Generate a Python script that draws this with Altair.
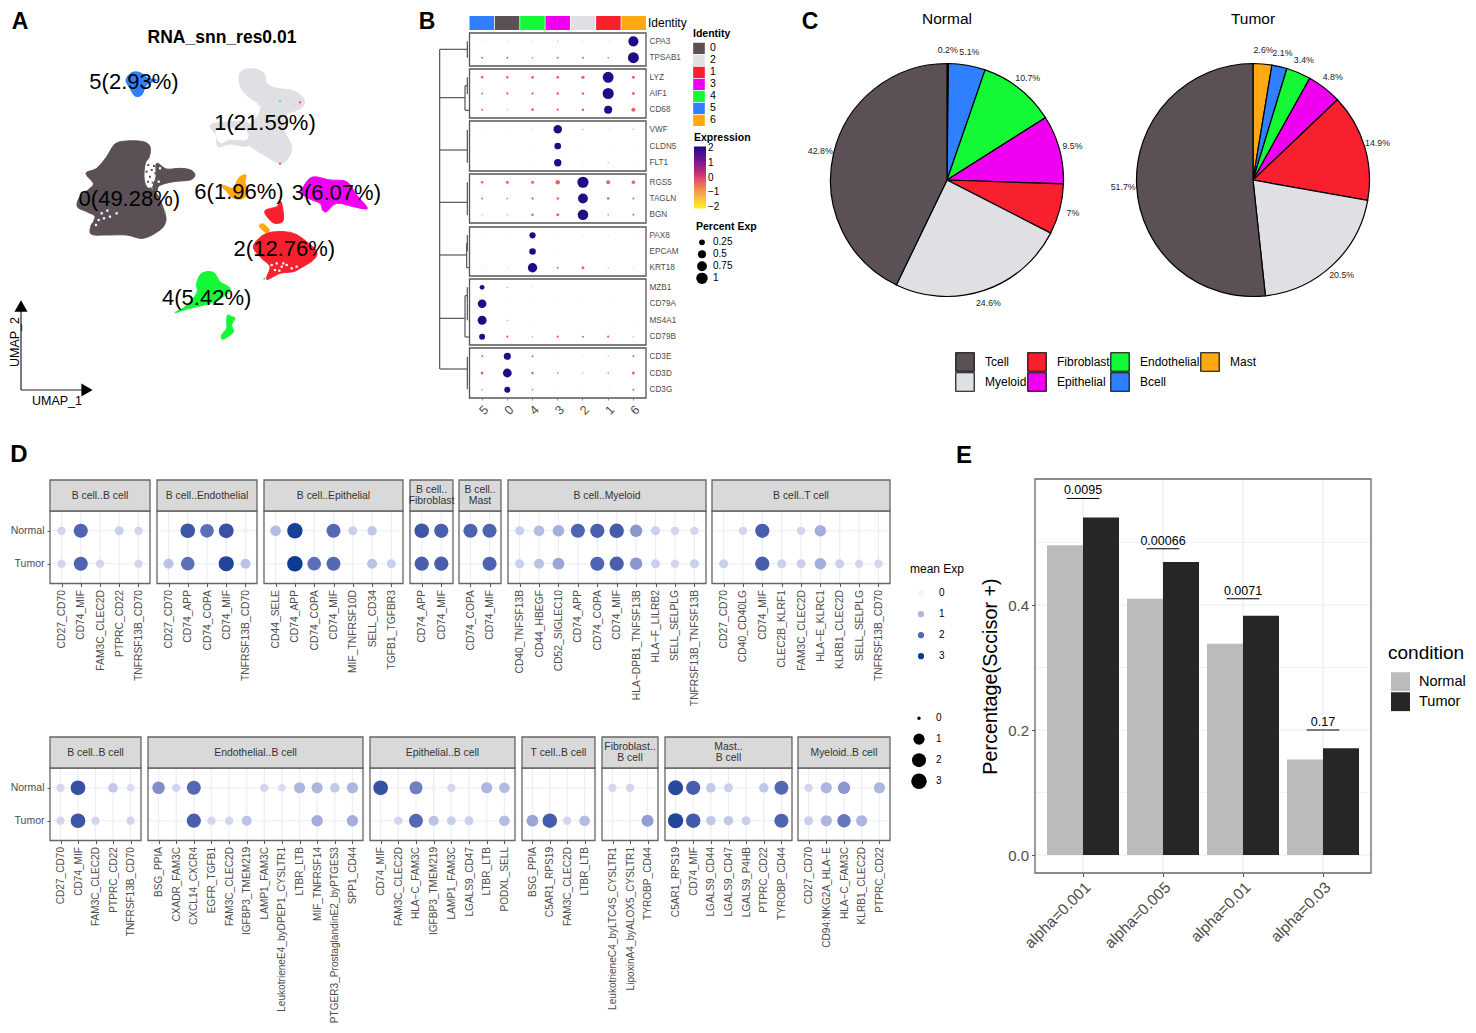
import altair as alt
import pandas as pd

FONT = "Liberation Sans"
GREY = "#4d4d4d"
FRAME = "#666666"

# ---------------- Panel A values (UMAP outlines)
umap_outlines = {
    "#5a5055": [
        [(345,432),(380,423),(430,425),(450,440),(448,470),(436,490),(432,530),(440,560),(465,575),(480,600),(495,640),(497,665),(480,690),(430,715),(380,705),(320,705),(275,703),(272,680),(285,650),(260,635),(232,620),(240,590),(270,565),(280,550),(258,520),(290,505),(320,470)],
        [(470,490),(500,507),(540,505),(572,510),(585,525),(570,540),(520,545),(478,557),(470,575),(458,565),(468,530)],
    ],
    "#e0dfe3": [
        [(718,225),(735,208),(770,208),(793,222),(800,250),(830,265),(880,272),(912,298),(903,325),(860,345),(850,385),(870,425),(875,450),(860,480),(838,490),(800,470),(760,445),(740,425),(745,380),(775,345),(780,315),(745,290),(722,262)],
        [(630,378),(660,368),(745,370),(745,435),(690,432),(655,440),(648,405)],
    ],
    "#f8202e": [
        [(760,740),(790,705),(830,695),(880,700),(920,725),(950,755),(940,780),(900,805),(880,815),(840,820),(800,838),(810,800),(785,775)],
        [(795,632),(830,620),(843,605),(850,660),(825,670),(805,655)],
    ],
    "#f000f0": [[(905,575),(935,532),(990,540),(1040,545),(1070,585),(1100,620),(1095,627),(1060,620),(1010,610),(980,635),(968,630),(960,610),(925,595)]],
    "#14f935": [
        [(590,850),(605,820),(640,817),(660,845),(690,865),(670,890),(630,910),(570,925),(525,938),(555,920),(590,880)],
        [(683,945),(695,950),(705,955),(695,975),(700,997),(668,1018),(665,1005),(680,985),(680,965)],
    ],
    "#2f80ff": [[(378,240),(395,218),(420,218),(445,235),(470,240),(440,255),(425,285),(405,288),(390,265)]],
    "#ffa812": [
        [(665,555),(700,565),(710,545),(720,530),(738,525),(735,550),(745,570),(730,595),(700,595),(680,575)],
        [(778,678),(790,672),(808,690),(796,697)],
    ],
}
umap_hole = [(650,390),(700,385),(740,395),(738,418),(690,418),(660,428)]
white_specks = [(305,640),(312,655),(322,632),(296,660),(330,650),(288,675),(350,640),(275,665),
                (480,505),(476,545),(800,805),(815,795),
                (830,790),(845,800),(860,795),(875,805),(825,810),(890,800),(850,790),(838,812)]
dark_specks = [(445,495),(455,510),(450,530),(462,498),(444,545),(458,548),(466,520),(452,565),(440,515)]
grey_specks = [(783,330),(776,312),(790,345),(775,355)]
umap_labels = ["5(2.93%)", "1(21.59%)", "0(49.28%)", "6(1.96%)", "3(6.07%)", "2(12.76%)", "4(5.42%)"]
umap_label_x = [402, 795, 388, 717, 1009, 853, 620]
umap_label_y = [246, 370, 596, 577, 578, 746, 893]

# ---------------- Panel B values
b_clusters = ["5", "0", "4", "3", "2", "1", "6"]
b_identity_order = ["0", "2", "1", "3", "4", "5", "6"]
b_identity_colors = ["#5a5055", "#e0dfe3", "#f8202e", "#f000f0", "#14f935", "#2f80ff", "#ffa812"]
b_genes = [["CPA3","TPSAB1"],["LYZ","AIF1","CD68"],["VWF","CLDN5","FLT1"],["RGS5","TAGLN","BGN"],
           ["PAX8","EPCAM","KRT18"],["MZB1","CD79A","MS4A1","CD79B"],["CD3E","CD3D","CD3G"]]
b_pct = {
 "CPA3":[.005,.005,.005,.01,.005,.005,.8], "TPSAB1":[.03,.03,.02,.03,.03,.02,.92],
 "LYZ":[.05,.05,.06,.06,.08,.92,.07], "AIF1":[.03,.04,.04,.05,.05,.95,.06], "CD68":[.03,.01,.06,.04,.05,.5,.13],
 "VWF":[.002,.002,.005,.55,.01,.005,.01], "CLDN5":[0,0,.003,.35,.003,.002,.002], "FLT1":[0,0,.003,.42,.005,.01,.002],
 "RGS5":[.05,.07,.07,.15,.95,.12,.1], "TAGLN":[.03,.02,.04,.05,.75,.05,.03], "BGN":[.01,.01,.05,.07,.85,.02,.03],
 "PAX8":[.002,.003,.3,.005,.005,.005,.002], "EPCAM":[0,0,.33,.003,0,0,0], "KRT18":[.005,.005,.68,.03,.07,.01,.005],
 "MZB1":[.18,.01,.005,0,0,0,0], "CD79A":[.58,.002,.002,.003,.002,.003,0], "MS4A1":[.62,.01,.002,0,0,.002,.002], "CD79B":[.27,.04,.01,.04,.03,.04,.01],
 "CD3E":[.03,.38,.03,.005,.005,.01,.03], "CD3D":[.06,.6,.05,.02,.01,.02,.07], "CD3G":[.02,.28,.02,.005,.003,.005,.03],
}
b_big = {"CPA3":"6","TPSAB1":"6","LYZ":"1","AIF1":"1","CD68":"1","VWF":"3","CLDN5":"3","FLT1":"3","RGS5":"2","TAGLN":"2","BGN":"2",
         "PAX8":"4","EPCAM":"4","KRT18":"4","MZB1":"5","CD79A":"5","MS4A1":"5","CD79B":"5","CD3E":"0","CD3D":"0","CD3G":"0"}
b_small_expr = -0.35
b_dendro = [(90,148,172,148),(90,293,165,293),(88,450,172,450),(90,607,172,607),(88,765,170,765),(90,955,165,955),(90,1107,172,1107),
            (89,148,89,1107),(172,124,172,173),(165,257,165,331),(165,331,178,331),(165,257,172,257),(172,232,172,282),
            (172,390,172,488),(172,547,172,646),(170,730,170,803),(170,730,172,730),(170,803,178,803),(172,705,172,754),
            (165,887,165,1011),(165,887,172,887),(165,1011,178,1011),(172,862,172,911),(172,911,172,961),(172,1070,172,1168)]

# ---------------- Panel C values
pie_names = ["Mast", "Bcell", "Endothelial", "Epithelial", "Fibroblast", "Myeloid", "Tcell"]
pie_normal = [0.2, 5.1, 10.7, 9.5, 7, 24.6, 42.8]
pie_tumor = [2.6, 2.1, 3.4, 4.8, 14.9, 20.5, 51.7]
pie_legend = ["Tcell", "Myeloid", "Fibroblast", "Epithelial", "Endothelial", "Bcell", "Mast"]
pie_legend_colors = ["#5a5055", "#e0dfe3", "#f8202e", "#f000f0", "#14f935", "#2f80ff", "#ffa812"]

# ---------------- Panel D values: (ligand_receptor, Normal, Tumor)
d_row1 = [
 ("B cell..B cell", [("CD27_CD70",.5,.5),("CD74_MIF",2.1,2.1),("FAM3C_CLEC2D",.05,.5),("PTPRC_CD22",.6,.05),("TNFRSF13B_CD70",.5,.5)]),
 ("B cell..Endothelial", [("CD27_CD70",.05,.8),("CD74_APP",2.4,1.9),("CD74_COPA",1.9,.05),("CD74_MIF",2.5,2.8),("TNFRSF13B_CD70",.1,.8)]),
 ("B cell..Epithelial", [("CD44_SELE",.9,.05),("CD74_APP",2.9,3),("CD74_COPA",.05,1.9),("CD74_MIF",2,2),("MIF_TNFRSF10D",.6,.05),("SELL_CD34",.7,.8),("TGFB1_TGFBR3",.05,.6)]),
 (["B cell..","Fibroblast"], [("CD74_APP",2.4,2.2),("CD74_MIF",2.2,2.2)]),
 (["B cell..","Mast"], [("CD74_COPA",2.1,.05),("CD74_MIF",2.1,2.1)]),
 ("B cell..Myeloid", [("CD40_TNFSF13B",.6,.6),("CD44_HBEGF",.9,.8),("CD52_SIGLEC10",1.1,1.2),("CD74_APP",2.1,.05),("CD74_COPA",2.2,2.1),("CD74_MIF",2.3,2.2),("HLA−DPB1_TNFSF13B",1.4,1.4),("HLA−F_LILRB2",.6,.6),("SELL_SELPLG",.5,.5),("TNFRSF13B_TNFSF13B",.5,.6)]),
 ("B cell..T cell", [("CD27_CD70",.05,.6),("CD40_CD40LG",.5,.05),("CD74_MIF",2.2,2.2),("CLEC2B_KLRF1",.05,.6),("FAM3C_CLEC2D",.5,.6),("HLA−E_KLRC1",1.1,1.1),("KLRB1_CLEC2D",.05,.6),("SELL_SELPLG",.05,.5),("TNFRSF13B_CD70",.05,.5)]),
]
d_row2 = [
 ("B cell..B cell", [("CD27_CD70",.5,.5),("CD74_MIF",2.5,2.4),("FAM3C_CLEC2D",.05,.5),("PTPRC_CD22",.7,.05),("TNFRSF13B_CD70",.4,.5)]),
 ("Endothelial..B cell", [("BSG_PPIA",1.5,.05),("CXADR_FAM3C",.5,.05),("CXCL14_CXCR4",2,2.2),("EGFR_TGFB1",.05,.5),("FAM3C_CLEC2D",.05,.5),("IGFBP3_TMEM219",.05,.8),("LAMP1_FAM3C",.5,.05),("LeukotrieneE4_byDPEP1_CYSLTR1",.4,.05),("LTBR_LTB",1,.05),("MIF_TNFRSF14",1,1.1),("PTGER3_ProstaglandinE2_byPTGES3",.7,.05),("SPP1_CD44",1,1.1)]),
 ("Epithelial..B cell", [("CD74_MIF",2.5,.05),("FAM3C_CLEC2D",.05,.5),("HLA−C_FAM3C",1.7,2),("IGFBP3_TMEM219",.1,.8),("LAMP1_FAM3C",.5,.6),("LGALS9_CD47",.05,.6),("LTBR_LTB",1,.05),("PODXL_SELL",.9,.9)]),
 ("T cell..B cell", [("BSG_PPIA",.05,1.2),("C5AR1_RPS19",.05,2.3),("FAM3C_CLEC2D",.05,.5),("LTBR_LTB",.05,.9)]),
 (["Fibroblast..","B cell"], [("LeukotrieneC4_byLTC4S_CYSLTR1",.5,.05),("LipoxinA4_byALOX5_CYSLTR1",.5,.05),("TYROBP_CD44",.05,1.3)]),
 (["Mast..","B cell"], [("C5AR1_RPS19",2.7,2.8),("CD74_MIF",2.2,2.3),("LGALS9_CD44",.7,.7),("LGALS9_CD47",.6,.7),("LGALS9_P4HB",.05,.6),("PTPRC_CD22",.7,.05),("TYROBP_CD44",2,2.1)]),
 ("Myeloid..B cell", [("CD27_CD70",.5,.6),("CD94:NKG2A_HLA−E",1,1),("HLA−C_FAM3C",1.4,1.8),("KLRB1_CLEC2D",.05,1),("PTPRC_CD22",1,.05)]),
]

# ---------------- Panel E values
e_alpha = ["alpha=0.001", "alpha=0.005", "alpha=0.01", "alpha=0.03"]
e_normal = [0.4955, 0.410, 0.338, 0.153]
e_tumor = [0.540, 0.469, 0.383, 0.171]
e_p = ["0.0095", "0.00066", "0.0071", "0.17"]
e_p_y = [0.5705, 0.49, 0.41, 0.20]

# ---------------- Layout (page pixels; the chart origin sits 8px in from the page corner)
def P(v):
    return v - 8

CW, CH = 1460, 1017
D1_BOX = [(50,150),(157,257),(264,403),(410,453),(459,501),(508,706),(712,890)]
D2_BOX = [(50,141),(148,363),(370,515),(522,595),(602,658),(665,792),(798,890)]
B_BOX = [(33,66),(69,118),(121,171),(174,223),(227,276),(279,345),(348,398)]
B_L, B_R = 469.5, 646

one = alt.Data(values=[{}])
layers = []

def label(text, x, y, size, bold=False, angle=0, align="center", color="black", **kw):
    layers.append(alt.Chart(one).mark_text(text=text, fontSize=size, fontWeight="bold" if bold else "normal",
                                           angle=angle, align=align, baseline="middle", color=color, **kw)
                  .encode(x=alt.value(P(x)), y=alt.value(P(y))))

def box(l, t, r, b, fill=None, stroke=FRAME, sw=1.4):
    kw = {"fill": fill} if fill else {"fillOpacity": 0}
    layers.append(alt.Chart(one).mark_rect(stroke=stroke, strokeWidth=sw, **kw)
                  .encode(x=alt.value(P(l)), x2=alt.value(P(r)), y=alt.value(P(t)), y2=alt.value(P(b))))

# ---------------- A
ux = alt.Scale(domain=[0, 1200], range=[P(0), P(400)])
uy = alt.Scale(domain=[0, 1260], range=[P(0), P(420)])
def upoly(pts, col):
    df = pd.DataFrame({"u": [p[0] for p in pts], "v": [p[1] for p in pts], "i": range(len(pts))})
    layers.append(alt.Chart(df).mark_line(interpolate="cardinal-closed", fill=col, stroke=col, strokeWidth=1)
                  .encode(x=alt.X("u:Q", scale=ux, axis=None), y=alt.Y("v:Q", scale=uy, axis=None), order=alt.Order("i:Q")))
def upts(pts, col, size):
    df = pd.DataFrame({"u": [p[0] for p in pts], "v": [p[1] for p in pts]})
    layers.append(alt.Chart(df).mark_square(color=col, size=size, opacity=1)
                  .encode(x=alt.X("u:Q", scale=ux, axis=None), y=alt.Y("v:Q", scale=uy, axis=None)))
for col, polys in umap_outlines.items():
    for poly in polys:
        upoly(poly, col)
upoly(umap_hole, "white")
upts(white_specks, "white", 5)
upts(dark_specks, "#5a5055", 4)
upts(grey_specks, "#e0dfe3", 5)
upts([(840,303),(495,636),(793,836)], "#14f935", 3)
upts([(900,307),(840,491),(640,882)], "#f8202e", 3)
layers.append(alt.Chart(pd.DataFrame({"t": umap_labels, "u": umap_label_x, "v": umap_label_y}))
              .mark_text(fontSize=22, color="black", baseline="middle")
              .encode(x=alt.X("u:Q", scale=ux, axis=None), y=alt.Y("v:Q", scale=uy, axis=None), text="t:N"))
label("A", 20, 22, 23, bold=True)
label("RNA_snn_res0.01", 222, 38, 17.5, bold=True)
layers.append(alt.Chart(one).mark_rule(color="#222222", strokeWidth=1.2).encode(x=alt.value(P(21)), y=alt.value(P(390)), y2=alt.value(P(310))))
layers.append(alt.Chart(one).mark_rule(color="#222222", strokeWidth=1.2).encode(x=alt.value(P(21)), x2=alt.value(P(82)), y=alt.value(P(390))))
layers.append(alt.Chart(one).mark_point(shape="triangle-up", filled=True, color="black", size=170, opacity=1).encode(x=alt.value(P(21)), y=alt.value(P(306))))
layers.append(alt.Chart(one).mark_point(shape="triangle-right", filled=True, color="black", size=170, opacity=1).encode(x=alt.value(P(87)), y=alt.value(P(390))))
label("UMAP_1", 57, 401, 12.5)
label("UMAP_2", 15, 342, 12.5, angle=270)

# ---------------- B
label("B", 427, 22, 23, bold=True)
bx_scale = alt.Scale(type="band", domain=b_clusters, range=[P(B_L), P(B_R)], paddingInner=0.03, paddingOuter=0)
bxp_scale = alt.Scale(type="band", domain=b_clusters, range=[P(B_L), P(B_R)], padding=0)
layers.append(alt.Chart(pd.DataFrame({"c": b_clusters})).mark_rect()
              .encode(x=alt.X("c:N", scale=bx_scale, axis=None, sort=None),
                      y=alt.value(P(16)), y2=alt.value(P(30)),
                      color=alt.Color("c:N", scale=alt.Scale(domain=b_identity_order, range=b_identity_colors),
                                      legend=alt.Legend(orient="none", legendX=P(693), legendY=P(29), title="Identity",
                                                        titleFontSize=10.5, titleFontWeight="bold", titlePadding=3, labelFontSize=10.5,
                                                        symbolType="square", symbolSize=135, symbolStrokeWidth=0, rowPadding=0,
                                                        labelOffset=5, clipHeight=11.6, padding=0))))
label("Identity", 648, 23, 12, align="left")
expr_scale = alt.Scale(domain=[-2.1, -1, 0, 1, 2.1], range=["#f5f520", "#f0a050", "#d8456f", "#7b1f8c", "#0b0b85"])
pct_scale = alt.Scale(domain=[0, 1], range=[0, 130])
for n, (genes, (t, b)) in enumerate(zip(b_genes, B_BOX)):
    rows = []
    for g in genes:
        for c, p in zip(b_clusters, b_pct[g]):
            rows.append({"g": g, "c": c, "p": p, "e": 2.0 if b_big[g] == c else b_small_expr})
    yscale = alt.Scale(type="point", domain=genes, range=[P(t + 8.3), P(b - 8.3)], padding=0)
    y = alt.Y("g:N", scale=yscale, sort=None,
              axis=alt.Axis(orient="right", offset=P(B_R) - CW, title=None, domain=False, grid=False, ticks=False,
                            labelFontSize=8.2, labelColor=GREY, labelPadding=3, labelLimit=100))
    x_axis = None
    if n == 6:
        x_axis = alt.Axis(orient="bottom", offset=P(b) - CH, title=None, domain=False, grid=False, tickSize=2, tickColor="#888888",
                          labelAngle=315, labelFontSize=12.5, labelColor=GREY, labelAlign="right", labelBaseline="top", labelPadding=3)
    layers.append(alt.Chart(pd.DataFrame(rows)).mark_circle(opacity=1)
                  .encode(x=alt.X("c:N", scale=bxp_scale, sort=None, axis=x_axis), y=y,
                          size=alt.Size("p:Q", scale=pct_scale,
                                        legend=alt.Legend(orient="none", legendX=P(696), legendY=P(222), title="Percent Exp", values=[.25,.5,.75,1], format=".2~f",
                                                          titleFontSize=10.5, titleFontWeight="bold", titlePadding=4, labelFontSize=10, symbolFillColor="black",
                                                          symbolStrokeWidth=0, clipHeight=11.6, rowPadding=0, labelOffset=5, padding=0) if n == 0 else None),
                          color=alt.Color("e:Q", scale=expr_scale,
                                          legend=alt.Legend(orient="none", legendX=P(694), legendY=P(133), title="Expression", values=[-2,-1,0,1,2],
                                                            gradientLength=62, gradientThickness=12, titleFontSize=10.5, titleFontWeight="bold", titlePadding=3,
                                                            labelFontSize=10, labelOffset=2, padding=0) if n == 0 else None)))
    box(B_L, t, B_R, b, stroke="#555555", sw=1.3)
dendro = pd.DataFrame(b_dendro, columns=["a", "b", "c", "d"])
dx = alt.Scale(domain=[0, 1080], range=[P(410), P(770)])
dy = alt.Scale(domain=[0, 1260], range=[P(0), P(420)])
layers.append(alt.Chart(dendro).mark_rule(color="#555555", strokeWidth=1.2)
              .encode(x=alt.X("a:Q", scale=dx, axis=None), x2="c:Q", y=alt.Y("b:Q", scale=dy, axis=None), y2="d:Q"))

# ---------------- C
label("C", 810, 22, 23, bold=True)
pie_scale = alt.Scale(domain=pie_legend, range=pie_legend_colors)
def pie(values, title, cx, with_legend):
    rows, cum = [], 0
    total = sum(values)
    for nm, v in zip(pie_names, values):
        rows.append({"n": nm, "s": cum, "e": cum + v, "m": cum + v / 2, "t": f"{v:g}%"})
        cum += v
    df = pd.DataFrame(rows)
    th = alt.Scale(domain=[0, total], range=[0, 6.283185])
    leg = alt.Legend(orient="none", legendX=P(955), legendY=P(352), title=None, columns=4, symbolType="square", symbolSize=340,
                     symbolStrokeColor="black", symbolStrokeWidth=1.1, labelFontSize=12, labelOffset=10, columnPadding=0, rowPadding=0,
                     clipHeight=20, gridAlign="each", padding=0) if with_legend else None
    layers.append(alt.Chart(df).mark_arc(outerRadius=116.5, innerRadius=0, stroke="black", strokeWidth=1.2)
                  .encode(theta=alt.Theta("s:Q", scale=th), theta2="e:Q", x=alt.value(P(cx)), y=alt.value(P(180)),
                          color=alt.Color("n:N", scale=pie_scale, legend=leg)))
    layers.append(alt.Chart(df).mark_text(radius=130, fontSize=8.8, color="#222222", baseline="middle")
                  .encode(theta=alt.Theta("m:Q", scale=th), x=alt.value(P(cx)), y=alt.value(P(180)), text="t:N"))
    label(title, cx, 19, 15.5)
pie(pie_normal, "Normal", 947, True)
pie(pie_tumor, "Tumor", 1253, False)

# ---------------- D
label("D", 19, 455, 24, bold=True)
d_color = alt.Scale(domain=[0, 1, 2, 3], range=["#f4f5fc", "#adb6e0", "#5468b4", "#0a3d92"])
d_size = alt.Scale(domain=[0, 1, 2, 3.001], range=[12, 125, 195, 240])
conds = ["Normal", "Tumor"]
def d_panel(title, entries, l, r, st, sb, fb, first, xfont, leg_col=False, leg_size=False):
    genes = [e[0] for e in entries]
    n = len(genes)
    step = (r - l) / (n - 1 + 1.2)
    xs = alt.Scale(type="point", domain=genes, range=[P(l + 0.6 * step), P(r - 0.6 * step)], padding=0)
    ystep = (fb - sb) / 2.2
    ys = alt.Scale(type="point", domain=conds, range=[P(sb + 0.6 * ystep), P(fb - 0.6 * ystep)], padding=0)
    xax = alt.Axis(orient="bottom", offset=P(fb) - CH, title=None, domain=False, grid=False, tickSize=3, tickColor="#555555",
                   labelAngle=270, labelAlign="right", labelBaseline="middle", labelFontSize=xfont, labelColor=GREY, labelPadding=3, labelLimit=400)
    yax = alt.Axis(orient="left", offset=-P(l), title=None, domain=False, grid=False, tickSize=3, tickColor="#555555",
                   labelFontSize=10.5, labelColor=GREY, labelPadding=3) if first else None
    layers.append(alt.Chart(pd.DataFrame({"g": genes})).mark_rule(color="#eceef5", strokeWidth=1.2)
                  .encode(x=alt.X("g:N", scale=xs, sort=None, axis=xax), y=alt.value(P(sb)), y2=alt.value(P(fb))))
    layers.append(alt.Chart(pd.DataFrame({"c": conds})).mark_rule(color="#eceef5", strokeWidth=1.2)
                  .encode(y=alt.Y("c:N", scale=ys, sort=None, axis=yax), x=alt.value(P(l)), x2=alt.value(P(r))))
    rows = []
    for g, a, b in entries:
        rows += [{"g": g, "c": "Normal", "v": a, "w": a}, {"g": g, "c": "Tumor", "v": b, "w": b}]
    col_leg = alt.Legend(orient="none", legendX=P(910), legendY=P(564), title="mean Exp", type="symbol", values=[0,1,2,3], format="~g", symbolType="circle", symbolSize=38,
                         symbolStrokeWidth=0, symbolOffset=6, titleFontSize=12, titleFontWeight="normal", titlePadding=7, labelFontSize=10, labelOffset=13, clipHeight=20.3, rowPadding=0, padding=0) if leg_col else None
    size_leg = alt.Legend(orient="none", legendX=P(911), legendY=P(708), title=None, values=[0,1,2,3], format="~g", symbolFillColor="black", symbolStrokeWidth=0,
                          labelFontSize=10, labelOffset=9, clipHeight=20.3, rowPadding=0, padding=0) if leg_size else None
    layers.append(alt.Chart(pd.DataFrame(rows)).mark_circle(opacity=1)
                  .encode(x=alt.X("g:N", scale=xs, sort=None, axis=None), y=alt.Y("c:N", scale=ys, sort=None, axis=None),
                          color=alt.Color("v:Q", scale=d_color, legend=col_leg),
                          size=alt.Size("w:Q", scale=d_size, legend=size_leg)))
    box(l, sb, r, fb, sw=1.3)
    box(l, st, r, sb, fill="#d9d9d9", sw=1.3)
    cx = (l + r) / 2
    if isinstance(title, list):
        label(title, cx, (st + sb) / 2 - 5.5, 10.4, color="#333333", lineHeight=11)
    else:
        label(title, cx, (st + sb) / 2, 10.4, color="#333333")

for i, ((title, entries), (l, r)) in enumerate(zip(d_row1, D1_BOX)):
    d_panel(title, entries, l, r, 480, 511, 583.5, i == 0, 10.3, leg_col=(i == 0))
for i, ((title, entries), (l, r)) in enumerate(zip(d_row2, D2_BOX)):
    d_panel(title, entries, l, r, 737, 768, 840.5, i == 0, 10.1, leg_size=(i == 0))

# ---------------- E
label("E", 964, 456, 24, bold=True)
EL, ER, ET, EB = 1035, 1371, 479, 873
ey = alt.Scale(domain=[-0.0288, 0.6016], range=[P(EB), P(ET)])
ex = alt.Scale(type="band", domain=e_alpha, range=[P(1043), P(1363)], padding=0)
en = alt.Scale(domain=[0.4, 4.6], range=[P(EL), P(ER)])
layers.append(alt.Chart(pd.DataFrame({"v": [0.1, 0.3, 0.5]})).mark_rule(color="#f0f0f0", strokeWidth=0.8)
              .encode(y=alt.Y("v:Q", scale=ey, axis=None), x=alt.value(P(EL)), x2=alt.value(P(ER))))
layers.append(alt.Chart(pd.DataFrame({"v": [0.0, 0.2, 0.4]})).mark_rule(color="#ebebeb", strokeWidth=1.2)
              .encode(y=alt.Y("v:Q", scale=ey,
                              axis=alt.Axis(orient="left", offset=-P(EL), values=[0, .2, .4], format=".1f", grid=False, domain=False, tickSize=3.5, tickColor="#555555",
                                            labelFontSize=15, labelColor=GREY, labelPadding=3, title="Percentage(Sccisor +)", titleFontSize=19.8, titleFontWeight="normal",
                                            titleColor="black", titlePadding=7)),
                      x=alt.value(P(EL)), x2=alt.value(P(ER))))
layers.append(alt.Chart(pd.DataFrame({"a": e_alpha})).mark_rule(color="#ebebeb", strokeWidth=1.2)
              .encode(x=alt.X("a:N", scale=ex, sort=None,
                              axis=alt.Axis(orient="bottom", offset=P(EB) - CH, title=None, grid=False, domain=False, tickSize=3.5, tickColor="#555555",
                                            labelAngle=315, labelAlign="right", labelBaseline="top", labelFontSize=15.5, labelColor=GREY, labelPadding=3, labelLimit=200)),
                      y=alt.value(P(ET)), y2=alt.value(P(EB))))
e_cols = alt.Scale(domain=["Normal", "Tumor"], range=["#bbbbbb", "#262626"])
for cond, vals, off, leg in [("Normal", e_normal, -18, True), ("Tumor", e_tumor, 18, False)]:
    df = pd.DataFrame({"a": e_alpha, "v": vals, "condition": cond})
    legend = alt.Legend(orient="none", legendX=P(1388), legendY=P(644), title="condition", titleFontSize=19, titleFontWeight="normal", titlePadding=9,
                        labelFontSize=14.5, labelOffset=9, symbolType="square", symbolSize=361, symbolStrokeWidth=0, symbolOffset=3, rowPadding=0, clipHeight=19.5, padding=0) if leg else None
    layers.append(alt.Chart(df).mark_bar(width=36, xOffset=off)
                  .encode(x=alt.X("a:N", scale=ex, sort=None, axis=None), y=alt.Y("v:Q", scale=ey, axis=None),
                          color=alt.Color("condition:N", scale=e_cols, legend=legend)))
sig = pd.DataFrame({"i": [1, 2, 3, 4], "a": [0.795, 1.795, 2.795, 3.795], "b": [1.205, 2.205, 3.205, 4.205], "y": e_p_y, "t": e_p})
layers.append(alt.Chart(sig).mark_rule(color="black", strokeWidth=1)
              .encode(x=alt.X("a:Q", scale=en, axis=None), x2="b:Q", y=alt.Y("y:Q", scale=ey, axis=None)))
layers.append(alt.Chart(sig).mark_text(fontSize=12.5, color="black", dy=-8, baseline="middle")
              .encode(x=alt.X("i:Q", scale=en, axis=None), y=alt.Y("y:Q", scale=ey, axis=None), text="t:N"))
box(EL, ET, ER, EB, sw=1.3)

chart = (alt.layer(*layers)
         .resolve_scale(x="independent", y="independent", color="independent", size="independent", theta="independent")
         .resolve_axis(x="independent", y="independent")
         .resolve_legend(color="independent", size="independent")
         .properties(width=CW, height=CH, padding=0, autosize=alt.AutoSizeParams(type="none", contains="padding"), background="white")
         .configure(font=FONT)
         .configure_view(stroke=None))

chart.save("out.html", embed_options={"renderer": "svg", "actions": False})
